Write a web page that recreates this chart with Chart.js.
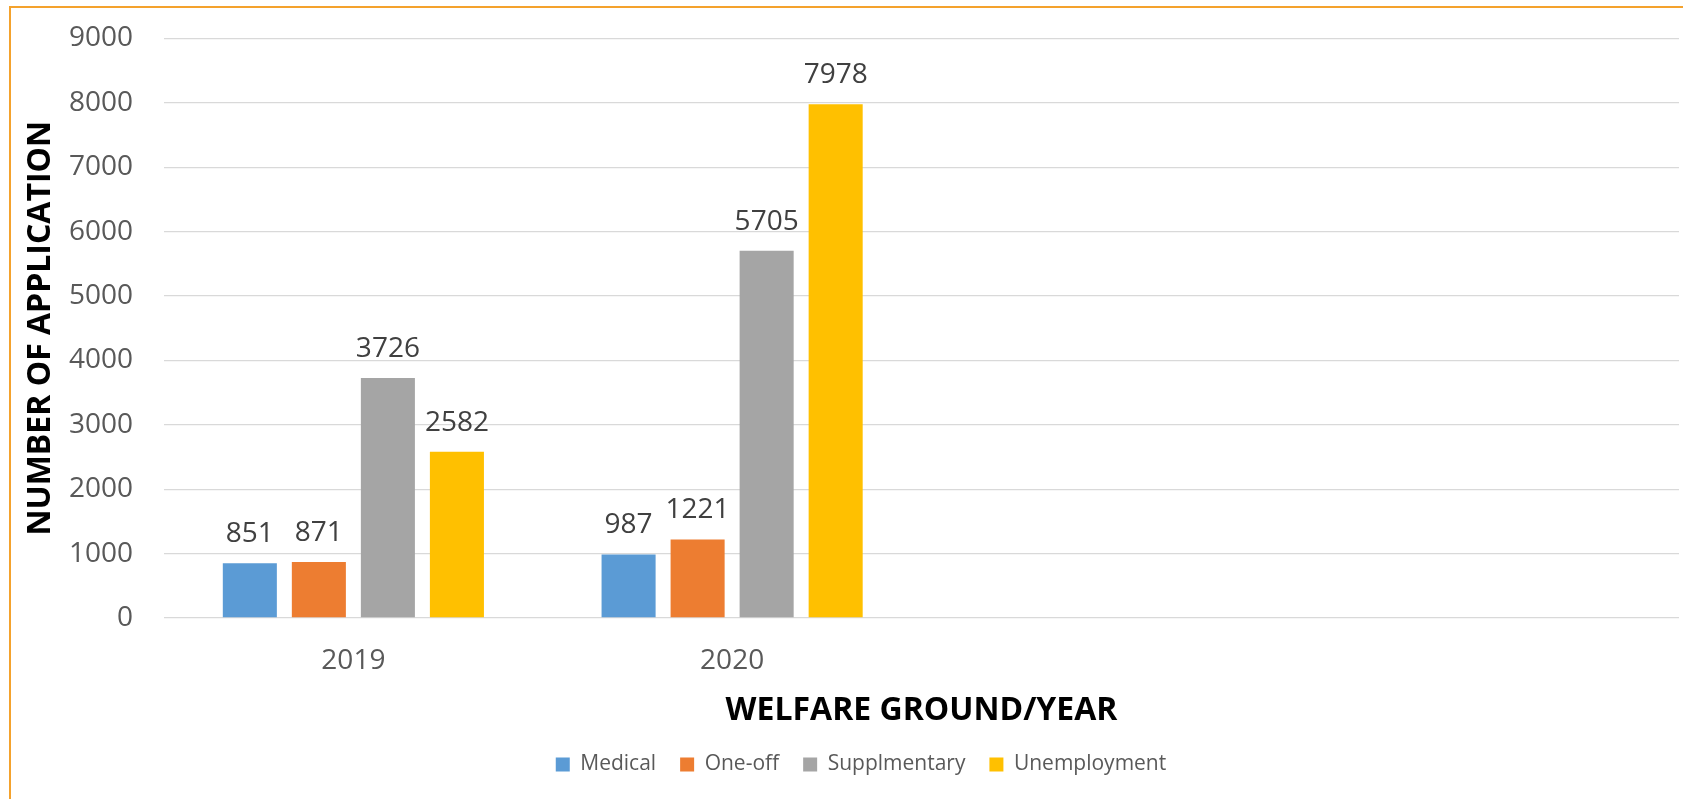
<!DOCTYPE html>
<html>
<head>
<meta charset="utf-8">
<script src="https://cdn.jsdelivr.net/npm/chart.js@4/dist/chart.umd.min.js"></script>
<style>
  html, body { margin: 0; padding: 0; background: #fff; overflow: hidden; }
  #wrap { position: relative; width: 1683px; height: 799px; }
  #frame { position: absolute; left: 9px; top: 6px; width: 1700px; height: 900px;
           border: 2px solid #F4A22D; pointer-events: none; }
</style>
</head>
<body>
<div id="wrap">
  <canvas id="chart" width="1683" height="799"></canvas>
  <div id="frame"></div>
</div>
<script>
// categories (last two slots are empty in the original)
const years = ['2019', '2020', '', ''];
const seriesNames = ['Medical', 'One-off', 'Supplmentary', 'Unemployment'];
const medical = [851, 987];
const oneOff = [871, 1221];
const supplementary = [3726, 5705];
const unemployment = [2582, 7978];
const colors = ['#5B9BD5', '#ED7D31', '#A5A5A5', '#FFC000'];
const xTitle = 'WELFARE GROUND/YEAR';
const yTitle = 'NUMBER OF APPLICATION';

const tickFont = { family: 'Open Sans', size: 28 };
const titleFont = { family: 'Open Sans', weight: 'bold', size: 32 };

// value labels above each bar
const valueLabels = {
  id: 'valueLabels',
  afterDatasetsDraw(chart) {
    const ctx = chart.ctx;
    ctx.save();
    ctx.font = '28px "Open Sans"';
    ctx.fillStyle = '#404040';
    ctx.textAlign = 'center';
    ctx.textBaseline = 'alphabetic';
    chart.data.datasets.forEach((ds, i) => {
      chart.getDatasetMeta(i).data.forEach((bar, j) => {
        if (ds.data[j] == null) return;
        ctx.fillText(ds.data[j], bar.x, bar.y - 21);
      });
    });
    ctx.restore();
  }
};

// legend in the original is not centred on the canvas
const shiftLegend = {
  id: 'shiftLegend',
  afterLayout(chart) {
    const box = chart.legend;
    const w = box.right - box.left;
    box.left = 861 - w / 2;
    box.right = 861 + w / 2;
  }
};

new Chart(document.getElementById('chart'), {
  type: 'bar',
  data: {
    labels: years,
    datasets: [medical, oneOff, supplementary, unemployment].map((d, i) => ({
      label: seriesNames[i],
      data: d,
      backgroundColor: colors[i],
      categoryPercentage: 0.729,
      barPercentage: 0.783
    }))
  },
  options: {
    responsive: false,
    animation: false,
    layout: { padding: { top: 38.5, right: 4, left: 0, bottom: 14 } },
    scales: {
      x: {
        grid: { display: false },
        border: { display: false },
        ticks: { font: tickFont, color: '#595959', padding: 18 },
        title: {
          display: true,
          text: xTitle,
          color: '#000',
          font: titleFont,
          padding: { top: 0, bottom: 0 }
        },
        afterFit(s) { s.height = 112; }
      },
      y: {
        min: 0,
        max: 9000,
        ticks: { stepSize: 1000, font: tickFont, color: '#595959', padding: 31,
                 callback: v => String(v) },
        grid: { color: '#D9D9D9', lineWidth: 1.3, drawTicks: false },
        border: { display: false },
        title: {
          display: true,
          text: yTitle,
          color: '#000',
          font: titleFont,
          padding: { top: 22, bottom: 0 }
        },
        afterFit(s) {
          s.width = 164;
          s.paddingTop = 0;
          s.paddingBottom = 0;
        }
      }
    },
    plugins: {
      legend: {
        position: 'bottom',
        labels: {
          boxWidth: 14,
          boxHeight: 14,
          padding: 24,
          color: '#595959',
          font: { family: 'Open Sans', size: 21 }
        }
      },
      tooltip: { enabled: false }
    }
  },
  plugins: [valueLabels, shiftLegend]
});
</script>
</body>
</html>
